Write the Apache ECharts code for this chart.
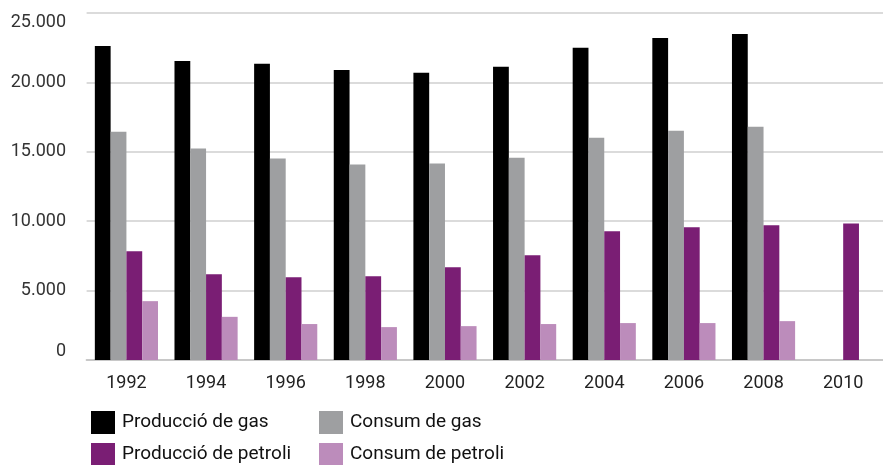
<!DOCTYPE html>
<html><head><meta charset="utf-8">
<script src="https://cdn.jsdelivr.net/npm/echarts@6/dist/echarts.min.js"></script>
<style>html,body{margin:0;padding:0;background:#fff}#c{width:883px;height:465px}</style>
</head><body><div id="c"></div>
<script>
var years = ['1992','1994','1996','1998','2000','2002','2004','2006','2008','2010'];
var produccioGas = [22630, 21550, 21340, 20900, 20690, 21120, 22490, 23200, 23490, null];
var consumGas = [16450, 15230, 14510, 14080, 14150, 14580, 16020, 16520, 16810, null];
var produccioPetroli = [7830, 6180, 5960, 6030, 6680, 7540, 9270, 9560, 9700, 9840];
var consumPetroli = [4240, 3110, 2590, 2370, 2440, 2590, 2660, 2660, 2800, null];
var yTicks = [0, 5000, 10000, 15000, 20000, 25000];
var names = ['Producció de gas','Consum de gas','Producció de petroli','Consum de petroli'];
var colors = ['#000000','#9e9fa1','#7a1e74','#bc8cbb'];

function fmt(v){ return String(v).replace(/\B(?=(\d{3})+(?!\d))/g,'.'); }
var FONT = 'Roboto';
var chart = echarts.init(document.getElementById('c'), null, {renderer:'canvas'});
var legendPos = [[91,411],[319,411],[91,443],[319,443]];
var legends = names.map(function(n, i){
  return {
    orient:'horizontal', left: legendPos[i][0], top: legendPos[i][1], padding: 0,
    itemWidth: 24, itemHeight: 23, icon: 'rect', selectedMode: false, data: [n],
    textStyle: {fontFamily: FONT, fontSize: 19, color: '#111', padding:[0,0,0,2]}
  };
});
var seriesData = [produccioGas, consumGas, produccioPetroli, consumPetroli];
chart.setOption({
  animation: false,
  textStyle: {fontFamily: FONT},
  color: colors,
  legend: legends,
  grid: {left: 86.6, right: -11.1, top: 13, bottom: 105, containLabel: false},
  xAxis: {
    type: 'category', data: years,
    axisLine: {show: true, lineStyle: {color: '#c8c8c8', width: 2}},
    axisTick: {show: false},
    axisLabel: {fontFamily: FONT, fontSize: 18, color: '#222', margin: 14}
  },
  yAxis: {
    type: 'value', min: 0, max: 25000, interval: 5000,
    axisLine: {show: false}, axisTick: {show: false},
    splitLine: {lineStyle: {color: '#cfcfcf', width: 1.5}},
    axisLabel: {fontFamily: FONT, fontSize: 18, color: '#333', margin: 20.6,
      verticalAlignMinLabel: 'bottom', verticalAlignMaxLabel: 'top',
      formatter: function(v){ return fmt(v); }}
  },
  series: names.map(function(n, i){
    return {name: n, type: 'bar', data: seriesData[i], barGap: '0%', barCategoryGap: '20.7%',
      itemStyle: {color: colors[i]}};
  })
});
</script></body></html>
